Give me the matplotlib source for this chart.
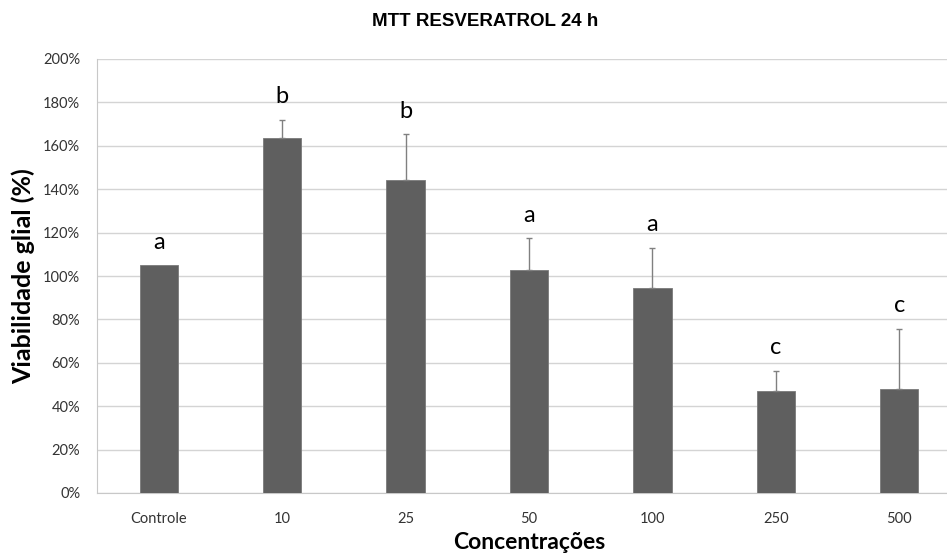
import numpy as np
import matplotlib.pyplot as plt
from matplotlib.ticker import PercentFormatter

# values (percent of control)
categories = ['Controle', '10', '25', '50', '100', '250', '500']
viability = [105.0, 163.6, 144.2, 102.8, 94.5, 47.1, 48.0]
sd_upper = [0.0, 8.3, 21.2, 14.7, 18.5, 9.2, 27.8]
letters = ['a', 'b', 'b', 'a', 'a', 'c', 'c']


def render_plot():
    fig = plt.figure(figsize=(9.47, 5.56), dpi=100)
    # axes runs a little past the right edge, like the cropped original
    ax = fig.add_axes([97 / 947, 63 / 556, 864 / 947, 434 / 556])

    x = np.arange(len(categories))
    vals = np.array(viability)
    sd = np.array(sd_upper)
    ax.bar(x, vals, width=0.31, color='#5f5f5f', edgecolor='#7a7a7a',
           linewidth=0.6, zorder=3)

    # only the upper half of the error bars, and none where sd is zero
    has_err = sd > 0
    err = [np.zeros(has_err.sum()), sd[has_err]]
    ax.errorbar(x[has_err], vals[has_err], yerr=err, fmt='none',
                ecolor='#808080', elinewidth=1.0, capsize=2.5, capthick=1.0,
                zorder=4)

    # significance letters above each bar
    for i in range(len(x)):
        top = vals[i] + sd[i]
        ax.annotate(letters[i], xy=(x[i], top), xytext=(0, 9),
                    textcoords='offset points', ha='center', va='bottom',
                    fontsize=17, family='Lato', color='black')

    ax.set_xlim(-0.5, len(categories) - 0.5)
    ax.set_ylim(0, 200)
    ax.set_yticks(np.arange(0, 201, 20))
    ax.yaxis.set_major_formatter(PercentFormatter(decimals=0))
    ax.set_xticks(x)
    ax.set_xticklabels(categories)
    ax.tick_params(axis='both', length=0, labelcolor='#333333')
    ax.tick_params(axis='x', pad=14, labelsize=10.5)
    ax.tick_params(axis='y', pad=12, labelsize=10.5)
    for lab in ax.get_xticklabels() + ax.get_yticklabels():
        lab.set_family('Lato')

    ax.grid(axis='y', color='#d4d4d4', linewidth=1.0, zorder=0)
    ax.set_axisbelow(True)
    ax.spines['top'].set_visible(False)
    ax.spines['right'].set_visible(False)
    ax.spines['left'].set_color('#c8c8c8')
    ax.spines['bottom'].set_color('#c8c8c8')

    ax.set_ylabel('Viabilidade glial (%)', fontsize=18, fontweight='bold',
                  family='Lato', labelpad=6)
    ax.set_xlabel('Concentrações', fontsize=16.5, fontweight='bold',
                  family='Lato', labelpad=4)

    fig.text(485 / 947, 1 - 22 / 556, 'MTT RESVERATROL 24 h', ha='center',
             va='center', fontsize=13.5, fontweight='bold',
             family='Liberation Sans')

    fig.savefig('out.png', dpi=100, facecolor='white')


def main():
    render_plot()


if __name__ == "__main__":
    main()
